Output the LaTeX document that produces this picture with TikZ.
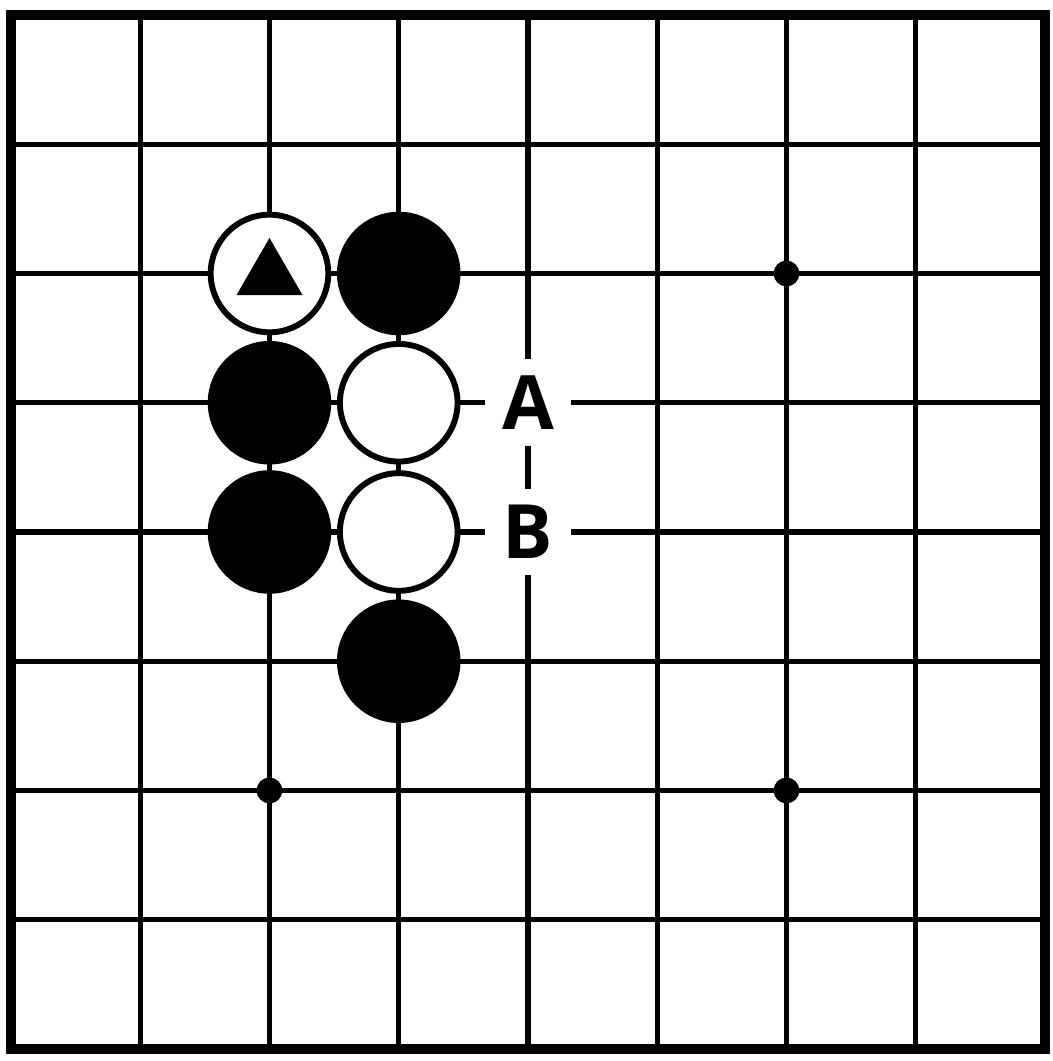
\documentclass[tikz,border=0pt]{standalone}
\usepackage{fontspec}
\newfontfamily\labelfont{Open Sans}
\usetikzlibrary{shapes.geometric}
\begin{document}
\begin{tikzpicture}

	%DEFINITIONS
	\tikzstyle{every node}=[font=\labelfont\bfseries\fontsize{16.5}{20}\selectfont]
	\tikzstyle{linea} = [line width=1.2pt]
	\tikzstyle{borde} = [line width=2.2pt]
	\tikzstyle{negra} = [circle, draw, fill=black, line width=1.3pt, inner sep=0pt, minimum size=0.91cm]
	\tikzstyle{blanca} = [circle, draw, fill=white, line width=1.3pt, inner sep=0pt, minimum size=0.91cm]
	\tikzstyle{marca} = [regular polygon, regular polygon sides=3, fill=black, inner sep=0pt, minimum size=0.59cm]
	\tikzstyle{hoshi} = [circle, fill=black, inner sep=0pt, minimum size=0.2cm]
	\tikzstyle{letra} = [fill=white, inner sep=0pt, minimum size=0.67cm]

	\useasboundingbox (-0.085,-0.093) rectangle (8.062,8.116);

	%BOARD
	\draw[linea] (0,0) grid (8,8);
	\draw[borde] (0,0) rectangle (8,8);
	\draw(6,6) node[hoshi](h1){};
	\draw(2,2) node[hoshi](h2){};
	\draw(6,2) node[hoshi](h3){};

	%STONES
	\draw(2,6) node[blanca](w1){};
	\draw(3,6) node[negra](b1){};
	\draw(2,5) node[negra](b2){};
	\draw(3,5) node[blanca](w2){};
	\draw(2,4) node[negra](b3){};
	\draw(3,4) node[blanca](w3){};
	\draw(3,3) node[negra](b4){};
	\draw(2,5.98) node[marca](t1){};

	%LABELS
	\draw(4,5) node[letra](la){A};
	\draw(4,4) node[letra](lb){B};
\end{tikzpicture}
\end{document}
